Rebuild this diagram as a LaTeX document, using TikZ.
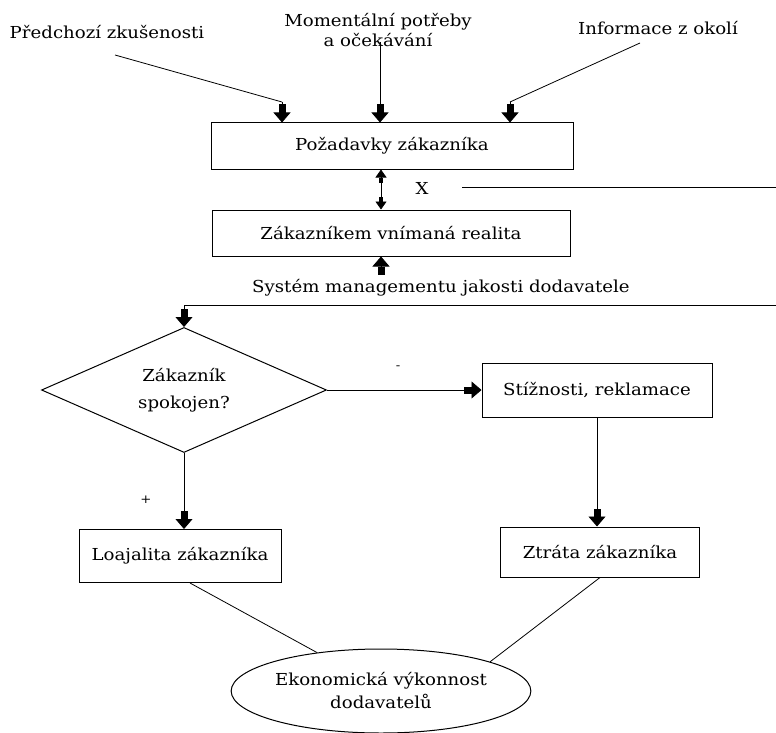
\documentclass[tikz,border=0pt]{standalone}
\usepackage{fontspec}
\setmainfont[FakeStretch=1.1]{DejaVu Serif}
\usetikzlibrary{arrows.meta,shapes.geometric}
\begin{document}
\begin{tikzpicture}[x=1pt,y=-1pt,
  txt/.style={font=\fontsize{16.5}{20}\selectfont},
  lbl/.style={txt, inner sep=0pt, align=center},
  small/.style={font=\fontsize{12}{14}\selectfont, inner sep=0pt},
  box/.style={txt, draw, line width=1pt, inner sep=0pt},
  conn/.style={line width=0.8pt},
  blk/.style={conn, -{Rectangle[length=8pt,width=7pt,sep=0pt]Triangle[length=10pt,width=17pt,sep=0pt]}},
  dbl/.style={conn,
    {Triangle[length=8pt,width=11pt,sep=0pt]Rectangle[length=5pt,width=4pt,sep=0pt]}-{Rectangle[length=5pt,width=4pt,sep=0pt]Triangle[length=8pt,width=11pt,sep=0pt]}},
]
\useasboundingbox (0,0) rectangle (776,733);

% inputs
\node[lbl] (prev) at (107,32) {Předchozí zkušenosti};
\node[lbl] (needs) at (378,30) {Momentální potřeby\\a očekávání};
\node[lbl] (info) at (658,28) {Informace z okolí};

% main boxes
\node[box, minimum width=362pt, minimum height=46pt] (req) at (392,146) {Požadavky zákazníka};
\node[box, minimum width=358pt, minimum height=46pt] (real) at (391,233) {Zákazníkem vnímaná realita};
\node[lbl] (x) at (422,188) {X};
\node[lbl] (sys) at (441,288) {Systém managementu jakosti dodavatele};

\node[txt, diamond, draw, line width=1pt, aspect=2.28, minimum width=285pt, minimum height=125pt,
      inner sep=0pt, align=center] (dec) at (184,390) {Zákazník\\[7pt]spokojen?};
\node[box, minimum width=230pt, minimum height=54pt] (compl) at (597,390) {Stížnosti, reklamace};
\node[box, minimum width=202pt, minimum height=53pt] (loy) at (180,556) {Loajalita zákazníka};
\node[box, minimum width=199pt, minimum height=50pt] (loss) at (600,552) {Ztráta zákazníka};
\node[txt, ellipse, draw, line width=1pt, minimum width=290pt, minimum height=84pt,
      inner sep=0pt, align=center] (econ) at (381,691) {Ekonomická výkonnost\\[3pt]dodavatelů};
\node[small] (minus) at (398,368) {-};
\node[small] (plus) at (146,500) {+};

% arrows into requirements
\coordinate (s1) at (115,55);
\coordinate (k1) at (282,102);
\draw[conn] (s1) -- (k1);
\draw[blk] (k1) -- (k1 |- req.north);
\coordinate (s2) at (380,42);
\draw[blk] (s2) -- (s2 |- req.north);
\coordinate (s3) at (640,43);
\coordinate (k3) at (510,102);
\draw[conn] (s3) -- (k3);
\draw[blk] (k3) -- (k3 |- req.north);

% gap between requirements and perceived reality
\coordinate (d) at (381,190);
\draw[dbl] (d |- req.south) -- (d |- real.north);
\coordinate (xs) at (462,187);
\coordinate (xe) at (776,187);
\draw[conn] (xs) -- (xe);

% quality management system
\coordinate (u) at (381,274);
\draw[blk] (u) -- (u |- real.south);
\coordinate (h1) at (776,305);
\coordinate (h0) at (184,305);
\draw[conn] (h1) -- (h0);
\draw[blk] (h0) -- (dec.north);

% decision branches
\draw[blk] (dec.east) -- (compl.west);
\draw[blk] (compl.south) -- (compl.south |- loss.north);
\draw[blk] (dec.south) -- (dec.south |- loy.north);

% economic performance
\draw[conn] ([xshift=10pt]loy.south) -- (econ.149);
\draw[conn] (loss.south) -- (econ.15);
\end{tikzpicture}
\end{document}
